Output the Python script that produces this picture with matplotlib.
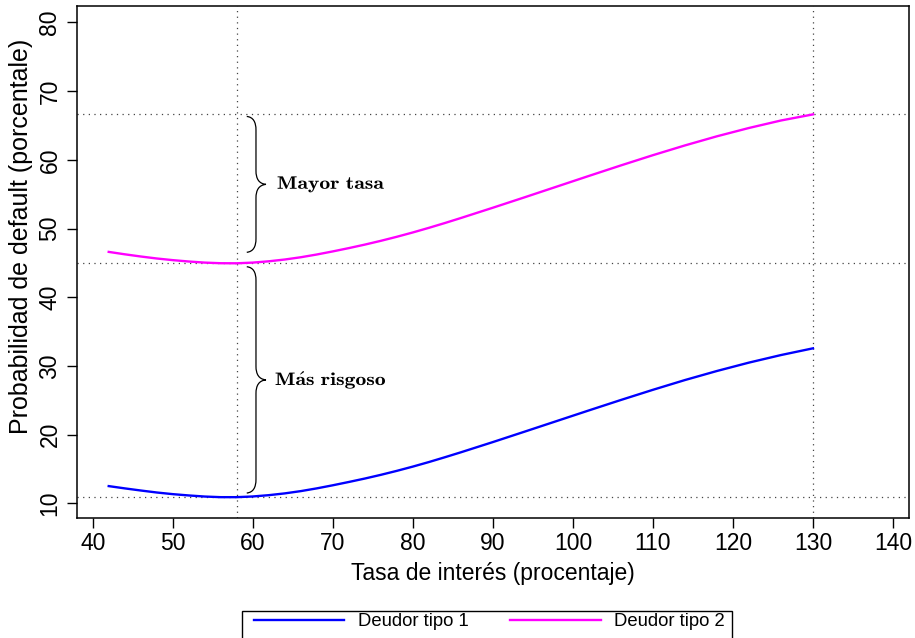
import numpy as np
import matplotlib.pyplot as plt
from matplotlib.path import Path
from matplotlib.patches import PathPatch, Rectangle
from matplotlib.textpath import TextPath
from matplotlib.transforms import Affine2D, ScaledTranslation

plt.rcParams['font.family'] = ['Liberation Sans', 'DejaVu Sans']
plt.rcParams['mathtext.fontset'] = 'cm'

# tasa de interés y probabilidad de default de cada deudor
tasa = [42, 44, 46, 48, 50, 52, 54, 56, 58, 60, 62, 64, 66, 68, 70, 72, 74, 76, 78, 80,
        82, 84, 86, 90, 94, 98, 102, 106, 110, 114, 118, 122, 126, 130]
deudor1 = [12.50, 12.17, 11.86, 11.57, 11.33, 11.14, 10.98, 10.89, 10.89, 10.99, 11.18,
           11.44, 11.77, 12.17, 12.62, 13.10, 13.60, 14.14, 14.72, 15.34, 16.00, 16.70,
           17.42, 18.91, 20.44, 21.98, 23.52, 25.04, 26.52, 27.94, 29.26, 30.48, 31.58,
           32.56]
deudor2 = [46.60, 46.25, 45.93, 45.64, 45.40, 45.20, 45.04, 44.95, 44.94, 45.04, 45.23,
           45.49, 45.82, 46.22, 46.67, 47.15, 47.66, 48.21, 48.80, 49.43, 50.10, 50.80,
           51.53, 53.03, 54.56, 56.11, 57.66, 59.19, 60.68, 62.10, 63.43, 64.64, 65.73,
           66.62]

x_ref = [58, 130]
xticks = list(range(40, 141, 10))
yticks = list(range(10, 81, 10))

W, H = 915, 638
fig = plt.figure(figsize=(W / 100, H / 100), dpi=100)
ax = fig.add_axes([76.7 / W, (H - 517.7) / H, (909 - 76.7) / W, (517.7 - 6) / H])

l1, = ax.plot(tasa, deudor1, color='#0000ff', lw=1.7, label='Deudor tipo 1')
l2, = ax.plot(tasa, deudor2, color='#ff00ff', lw=1.7, label='Deudor tipo 2')

# líneas de referencia punteadas
dots = dict(color='#444444', lw=0.9, linestyle=(0, (1, 3.5)), zorder=0)
for yv in [min(deudor1), min(deudor2), max(deudor2)]:
    ax.axhline(yv, **dots)
for xv in x_ref:
    ax.axvline(xv, **dots)


def llave(ax, y0, y1, x0, w=2.4, h=2.0):
    # llave vertical "}" entre y0 y y1
    xs, xt = x0 + w * 0.48, x0 + w
    ym = (y0 + y1) / 2
    verts = [(x0, y1),
             (xs * 0.7 + x0 * 0.3, y1 - 0.05 * h), (xs, y1 - 0.4 * h), (xs, y1 - h),
             (xs, ym + h),
             (xs, ym + 0.4 * h), (xs + 0.3 * (xt - xs), ym + 0.05 * h), (xt, ym),
             (xs + 0.3 * (xt - xs), ym - 0.05 * h), (xs, ym - 0.4 * h), (xs, ym - h),
             (xs, y0 + h),
             (xs, y0 + 0.4 * h), (xs * 0.7 + x0 * 0.3, y0 + 0.05 * h), (x0, y0)]
    codes = ([Path.MOVETO] + [Path.CURVE4] * 3 + [Path.LINETO] + [Path.CURVE4] * 6
             + [Path.LINETO] + [Path.CURVE4] * 3)
    ax.add_patch(PathPatch(Path(verts, codes), fill=False, lw=0.9, color='black'))
    return xt, ym


def etiqueta(ax, x, y, s, size=13, sx=1.2):
    # texto en negrita CM, algo ensanchado, con el borde izquierdo en (x, y)
    tp = TextPath((0, 0), s, size=size)
    bb = tp.get_extents()
    tr = (Affine2D().translate(-bb.x0, -(bb.y0 + bb.y1) / 2).scale(sx / 72, 1 / 72)
          + fig.dpi_scale_trans + ScaledTranslation(x, y, ax.transData))
    ax.add_patch(PathPatch(tp, transform=tr, fc='black', ec='none', lw=0))


xt, ym = llave(ax, min(deudor2) + 1.6, max(deudor2) - 0.3, x_ref[0] + 1.25)
etiqueta(ax, xt + 1.45, ym, r'$\mathbf{Mayor\ tasa}$')
xt, ym = llave(ax, min(deudor1) + 0.6, min(deudor2) - 0.5, x_ref[0] + 1.25)
etiqueta(ax, xt + 1.2, ym, r'$\mathbf{M\acute{a}s\ risgoso}$')

ax.set_xlim(38, 142)
ax.set_ylim(7.9, 82.4)
ax.set_xticks(xticks)
ax.set_yticks(yticks)
ax.tick_params(length=7, width=1, labelsize=16.5)
ax.tick_params(axis='x', pad=3)
ax.tick_params(axis='y', pad=4)
for lab in ax.get_yticklabels():
    lab.set_rotation(90)
    lab.set_va('center')
for s in ax.spines.values():
    s.set_linewidth(1.1)

ax.set_xlabel('Tasa de interés (procentaje)', fontsize=16.5, labelpad=5)
ax.set_ylabel('Probabilidad de default (porcentale)', fontsize=18)
ax.yaxis.set_label_coords(-0.052, 0.55)

# leyenda abajo, con el marco cortado por el borde de la figura
fig.patches.append(Rectangle((242 / W, -0.02), (731.7 - 242) / W, (H - 611) / H + 0.02,
                             transform=fig.transFigure, fill=False, lw=1, ec='black'))
fig.legend(handles=[l1, l2], loc='center', bbox_to_anchor=(489.4 / W, 1 - 622 / H),
           ncol=2, frameon=False, fontsize=13.3, handlelength=4.9, handletextpad=0.74,
           columnspacing=2.25, borderpad=0)

fig.savefig('out.png', dpi=100)
